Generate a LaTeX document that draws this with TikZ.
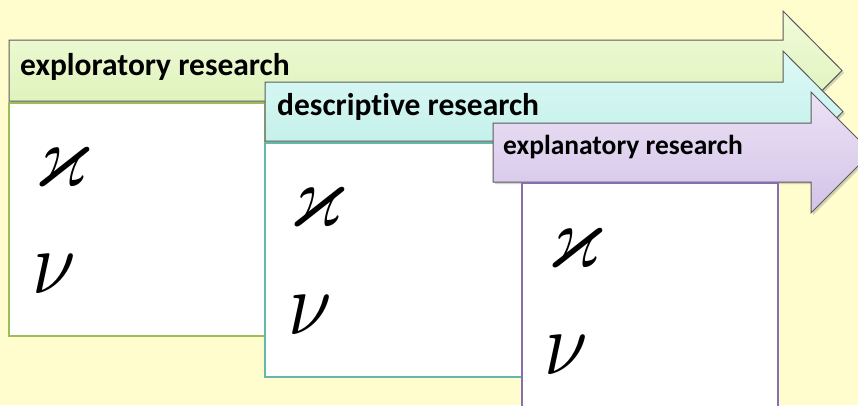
\documentclass[tikz,border=0pt]{standalone}
\usepackage{fontspec}
\usepackage{amssymb}
\newfontfamily\calib[Ligatures={NoCommon,NoRare,NoContextual}]{Carlito}
\usetikzlibrary{shadows}
\definecolor{bgyel}{RGB}{255,253,206}
\definecolor{grnT}{RGB}{241,251,218}
\definecolor{grnB}{RGB}{218,241,180}
\definecolor{cynT}{RGB}{222,249,246}
\definecolor{cynB}{RGB}{189,238,232}
\definecolor{purT}{RGB}{236,226,245}
\definecolor{purB}{RGB}{211,195,232}
\definecolor{outl}{RGB}{90,90,90}
\definecolor{grnE}{RGB}{155,190,90}
\definecolor{cynE}{RGB}{100,185,170}
\definecolor{purE}{RGB}{135,110,175}
\tikzset{
  arrowbody/.style={draw=outl, line width=1pt, line join=miter,
    drop shadow={shadow xshift=2pt, shadow yshift=-2pt, opacity=0.35}},
  panel/.style={fill=white, line width=1.5pt},
  label/.style={font=\calib\bfseries, anchor=base west, inner sep=0pt},
  kglyph/.style={inner sep=0pt, xscale=7.6, yscale=9},
  nglyph/.style={inner sep=0pt, xscale=7.8, yscale=9}
}
\begin{document}
\begin{tikzpicture}[x=1pt, y=-1pt]
\useasboundingbox (0,0) rectangle (858,405);
\fill[bgyel] (0,0) rectangle (858,405);
\clip (0,0) rectangle (858,405);
% green
\path[arrowbody, top color=grnT, bottom color=grnB]
  (9,40) -- (783,40) -- (783,11) -- (842,70.5) -- (783,130) -- (783,101) -- (9,101) -- cycle;
\draw[panel, draw=grnE] (9,103) rectangle (265,336);
\node[label, font=\calib\bfseries\fontsize{31.5}{31.5}\selectfont] (t1) at (20,75) {exploratory research};
\node[kglyph] (k1) at (62,167) {$\varkappa$};
\node[nglyph] (n1) at (54,274) {$\nu$};
% cyan
\path[arrowbody, top color=cynT, bottom color=cynB]
  (265,82) -- (783,82) -- (783,51) -- (843,111.5) -- (783,172) -- (783,141) -- (265,141) -- cycle;
\draw[panel, draw=cynE] (265,143) rectangle (522,377);
\node[label, font=\calib\bfseries\fontsize{31.5}{31.5}\selectfont] (t2) at (277,115) {descriptive research};
\node[kglyph] (k2) at (317,207) {$\varkappa$};
\node[nglyph] (n2) at (310,315) {$\nu$};
% purple
\path[arrowbody, top color=purT, bottom color=purB]
  (493,123) -- (811,123) -- (811,92) -- (871.5,152.5) -- (811,213) -- (811,182) -- (493,182) -- cycle;
\draw[panel, draw=purE] (522,183) rectangle (778,412);
\node[label, font=\calib\bfseries\fontsize{27.5}{27.5}\selectfont] (t3) at (503,154) {explanatory research};
\node[kglyph] (k3) at (575,248) {$\varkappa$};
\node[nglyph] (n3) at (566,355) {$\nu$};
\end{tikzpicture}
\end{document}
